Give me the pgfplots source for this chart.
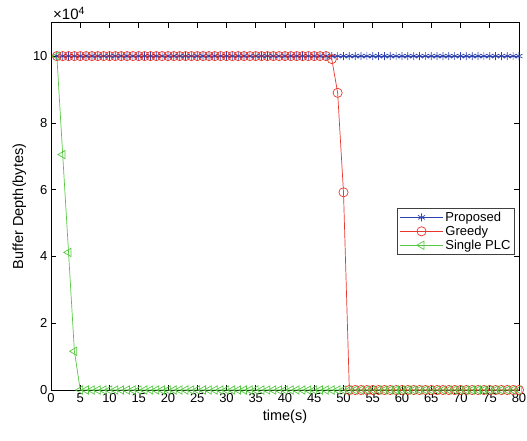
\documentclass[border=0pt]{standalone}
\usepackage{fontspec}
\setmainfont{Liberation Sans}
\usepackage{pgfplots}
\pgfplotsset{compat=1.18}
\definecolor{cblue}{RGB}{45,65,175}
\definecolor{cred}{RGB}{232,55,45}
\definecolor{cgreen}{RGB}{85,200,65}
\begin{document}
\begin{tikzpicture}
\begin{axis}[
  scale only axis,
  width=468pt, height=367.3pt,
  xmin=0, xmax=80, ymin=0, ymax=110000,
  xtick={0,5,...,80},
  ytick={0,20000,40000,60000,80000,100000},
  scaled y ticks=base 10:-4,
  ytick scale label code/.code={},
  /pgf/number format/assume math mode=true,
  tick label style={font=\fontsize{13}{15}\selectfont},
  label style={font=\fontsize{14.5}{17}\selectfont},
  xlabel={time(s)},
  ylabel={Buffer Depth(bytes)},
  tick align=inside,
  major tick length=5pt,
  axis line style={line width=0.8pt},
  tick style={line width=0.6pt, black},
  legend style={at={(rel axis cs:0.991,0.432)}, anchor=east, font=\fontsize{13}{15}\selectfont, draw=black!75, line width=0.7pt, row sep=-1pt, inner sep=2pt},
  legend cell align=left,
  legend image code/.code={\draw[#1] (0pt,0pt) -- (43pt,0pt); \draw[#1, only marks] plot coordinates {(21.5pt,0pt)};},
  clip=false,
]
\addplot[cblue, line width=0.7pt, mark=asterisk, mark size=4pt, mark options={line width=0.7pt}] coordinates {
(1,100000)(2,100000)(3,100000)(4,100000)(5,100000)(6,100000)(7,100000)(8,100000)(9,100000)(10,100000)
(11,100000)(12,100000)(13,100000)(14,100000)(15,100000)(16,100000)(17,100000)(18,100000)(19,100000)(20,100000)
(21,100000)(22,100000)(23,100000)(24,100000)(25,100000)(26,100000)(27,100000)(28,100000)(29,100000)(30,100000)
(31,100000)(32,100000)(33,100000)(34,100000)(35,100000)(36,100000)(37,100000)(38,100000)(39,100000)(40,100000)
(41,100000)(42,100000)(43,100000)(44,100000)(45,100000)(46,100000)(47,100000)(48,100000)(49,100000)(50,100000)
(51,100000)(52,100000)(53,100000)(54,100000)(55,100000)(56,100000)(57,100000)(58,100000)(59,100000)(60,100000)
(61,100000)(62,100000)(63,100000)(64,100000)(65,100000)(66,100000)(67,100000)(68,100000)(69,100000)(70,100000)
(71,100000)(72,100000)(73,100000)(74,100000)(75,100000)(76,100000)(77,100000)(78,100000)(79,100000)(80,100000)
};
\addlegendentry{Proposed}
\addplot[cred, line width=0.7pt, mark=o, mark size=4.6pt, mark options={line width=0.7pt}] coordinates {
(1,100000)(2,100000)(3,100000)(4,100000)(5,100000)(6,100000)(7,100000)(8,100000)(9,100000)(10,100000)
(11,100000)(12,100000)(13,100000)(14,100000)(15,100000)(16,100000)(17,100000)(18,100000)(19,100000)(20,100000)
(21,100000)(22,100000)(23,100000)(24,100000)(25,100000)(26,100000)(27,100000)(28,100000)(29,100000)(30,100000)
(31,100000)(32,100000)(33,100000)(34,100000)(35,100000)(36,100000)(37,100000)(38,100000)(39,100000)(40,100000)
(41,100000)(42,100000)(43,100000)(44,100000)(45,100000)(46,100000)(47,100000)(48,99100)(49,89000)(50,59200)
(51,0)(52,0)(53,0)(54,0)(55,0)(56,0)(57,0)(58,0)(59,0)(60,0)
(61,0)(62,0)(63,0)(64,0)(65,0)(66,0)(67,0)(68,0)(69,0)(70,0)
(71,0)(72,0)(73,0)(74,0)(75,0)(76,0)(77,0)(78,0)(79,0)(80,0)
};
\addlegendentry{Greedy}
\addplot[cgreen, line width=0.7pt, mark=triangle, mark size=4.8pt, mark options={rotate=90, line width=0.7pt}] coordinates {
(1,100000)(2,70500)(3,41200)(4,11600)(5,0)(6,0)(7,0)(8,0)(9,0)(10,0)
(11,0)(12,0)(13,0)(14,0)(15,0)(16,0)(17,0)(18,0)(19,0)(20,0)
(21,0)(22,0)(23,0)(24,0)(25,0)(26,0)(27,0)(28,0)(29,0)(30,0)
(31,0)(32,0)(33,0)(34,0)(35,0)(36,0)(37,0)(38,0)(39,0)(40,0)
(41,0)(42,0)(43,0)(44,0)(45,0)(46,0)(47,0)(48,0)(49,0)(50,0)
(51,0)(52,0)(53,0)(54,0)(55,0)(56,0)(57,0)(58,0)(59,0)(60,0)
(61,0)(62,0)(63,0)(64,0)(65,0)(66,0)(67,0)(68,0)(69,0)(70,0)
(71,0)(72,0)(73,0)(74,0)(75,0)(76,0)(77,0)(78,0)(79,0)(80,0)
};
\addlegendentry{Single PLC}
\end{axis}
\node[anchor=south west, inner sep=0pt, font=\fontsize{15}{17}\selectfont] at (2pt,370pt) {×10\textsuperscript{4}};
\pgfresetboundingbox
\useasboundingbox (-51pt,-50pt) rectangle (476pt,390pt);
\end{tikzpicture}
\end{document}
